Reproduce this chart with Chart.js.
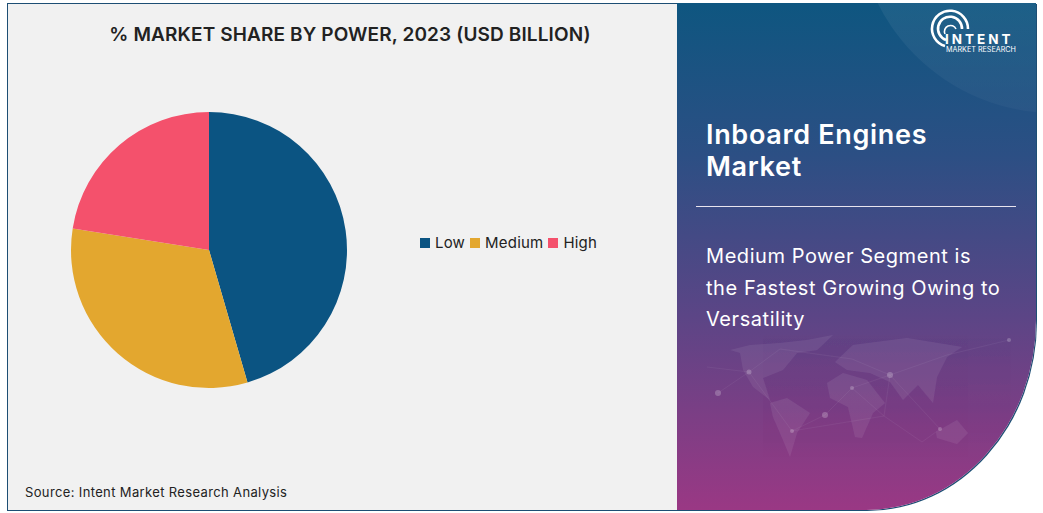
<!DOCTYPE html>
<html>

<head>
    <meta charset="UTF-8" />
    <title>Inboard Engines Market</title>
    <script src="https://cdn.jsdelivr.net/npm/chart.js"></script>
    <style>
        html, body { margin: 0; padding: 0; background: #fff; width: 1043px; height: 513px; overflow: hidden; font-family: Inter, sans-serif; }
        .marco { position: absolute; left: 7px; top: 3px; width: 670px; height: 506px; background: #f1f1f1; border: 1px solid #1d4e74; border-right: 0; box-sizing: content-box; }
        .titulo { position: absolute; left: 7px; top: 23px; width: 686px; text-align: center; font-size: 19px; font-weight: 600; color: #222; letter-spacing: .13px; }
        .fuente { position: absolute; left: 25px; top: 484px; font-size: 13px; color: #222; letter-spacing: .36px; }
        #grafico { position: absolute; left: 59px; top: 100px; }
        .leyenda { position: absolute; left: 420px; top: 234px; display: flex; font-size: 15px; color: #222; line-height: 18px; letter-spacing: .2px; }
        .leyenda span { display: inline-block; margin-right: 5px; white-space: nowrap; }
        .leyenda i { display: inline-block; width: 10px; height: 10px; margin-right: 5px; }
        .panel { position: absolute; left: 677px; top: 3px; width: 359px; height: 507px; background: linear-gradient(180deg, #0e5680 0%, #2c4f84 30%, #5c4586 62%, #9a3884 100%); border-bottom-right-radius: 170px 190px; overflow: hidden; box-shadow: 1px 1px 0 #1d4e74; color: #fff; }
        .panel svg { position: absolute; left: 0; top: 0; }
        .nombre { position: absolute; left: 29px; top: 116px; font-size: 27px; line-height: 32px; font-weight: 600; letter-spacing: .68px; white-space: nowrap; }
        .linea { position: absolute; left: 19px; top: 203px; width: 320px; height: 1px; background: #e8e4ee; }
        .texto { position: absolute; left: 29px; top: 238px; font-size: 20px; line-height: 31.5px; white-space: nowrap; letter-spacing: .56px; }
        .marca { position: absolute; left: 268px; top: 29px; font-size: 13.5px; line-height: 14px; font-weight: 700; letter-spacing: 3px; }
        .marca2 { position: absolute; left: 269px; top: 43px; font-size: 7.2px; line-height: 8px; white-space: nowrap; }
    </style>
</head>

<body>
    <div class="marco"></div>
    <div class="titulo">% MARKET SHARE BY POWER, 2023 (USD BILLION)</div>
    <canvas id="grafico" width="300" height="300"></canvas>
    <div class="leyenda" id="leyenda"></div>
    <div class="fuente">Source: Intent Market Research Analysis</div>

    <div class="panel">
        <svg width="359" height="507" viewBox="0 0 359 507">
            <defs>
                <linearGradient id="brillo" x1="0" y1="0" x2="0" y2="1">
                    <stop offset=".4" stop-color="#fff" stop-opacity=".1" />
                    <stop offset="1" stop-color="#fff" stop-opacity=".03" />
                </linearGradient>
            </defs>
            <circle cx="378" cy="-88" r="198" fill="url(#brillo)" />
            <!-- mapa de fondo, aproximado -->
            <g fill="#fff" opacity=".07">
                <path d="M53 347 L73 342 L103 340 L130 337 L156 332 L140 347 L120 350 L106 367 L86 375 L93 397 L76 384 L66 367 L63 350 Z" />
                <path d="M93 400 L110 395 L133 410 L120 430 L113 454 L106 437 L96 414 Z" />
                <path d="M150 380 L166 370 L190 377 L208 400 L196 410 L185 435 L178 434 L171 404 L153 395 Z" />
                <path d="M158 359 L176 342 L230 335 L285 344 L270 354 L260 374 L256 400 L241 382 L226 397 L213 379 L193 370 L170 367 Z" />
                <path d="M259 429 L280 417 L291 430 L280 441 L260 435 Z" />
            </g>
            <g stroke="#fff" stroke-width=".5" opacity=".1" fill="none">
                <path d="M30 364 L72 369 L115 428 L148 412 L175 385 L213 372 L270 352 L332 337" />
                <path d="M41 390 L72 369 L103 346 L175 356 L213 372 L207 413 L115 428" />
                <path d="M213 372 L263 426 L245 439 L207 413 L175 385" />
            </g>
            <g fill="#fff" opacity=".22">
                <circle cx="72" cy="369" r="2.5" />
                <circle cx="41" cy="390" r="3" />
                <circle cx="115" cy="428" r="2" />
                <circle cx="148" cy="412" r="3" />
                <circle cx="175" cy="385" r="2" />
                <circle cx="213" cy="372" r="3" />
                <circle cx="263" cy="426" r="2" />
                <circle cx="332" cy="337" r="2" />
            </g>
        </svg>
        <!-- logo -->
        <svg width="359" height="60" viewBox="0 0 359 60" fill="none" stroke="#fff" stroke-width="2.6">
            <path d="M268 43 A18 18 0 1 1 291 26" />
            <path d="M269 37 A12 12 0 1 1 285 26" />
            <path d="M268 31 A6 6 0 1 1 279 26" stroke-width="1.6" />
        </svg>
        <div class="marca">INTENT</div>
        <div class="marca2">MARKET RESEARCH</div>
        <div class="nombre">Inboard Engines<br>Market</div>
        <div class="linea"></div>
        <div class="texto">Medium Power Segment is<br>the Fastest Growing Owing to<br>Versatility</div>
    </div>

    <script>
        const categorias = ['Low', 'Medium', 'High'];
        const valores = [45.5, 32, 22.5];
        const colores = ['#0b5482', '#e3a72f', '#f4516c'];

        new Chart(document.getElementById('grafico'), {
            type: 'pie',
            data: {
                labels: categorias,
                datasets: [{
                    data: valores,
                    backgroundColor: colores,
                    borderWidth: 0
                }]
            },
            options: {
                responsive: false,
                animation: false,
                layout: { padding: 12 },
                plugins: {
                    legend: { display: false },
                    tooltip: { enabled: false }
                }
            }
        });

        // leyenda en fila, como en el original
        document.getElementById('leyenda').innerHTML = categorias.map((c, i) =>
            `<span><i style="background:${colores[i]}"></i>${c}</span>`).join('');
    </script>
</body>

</html>
